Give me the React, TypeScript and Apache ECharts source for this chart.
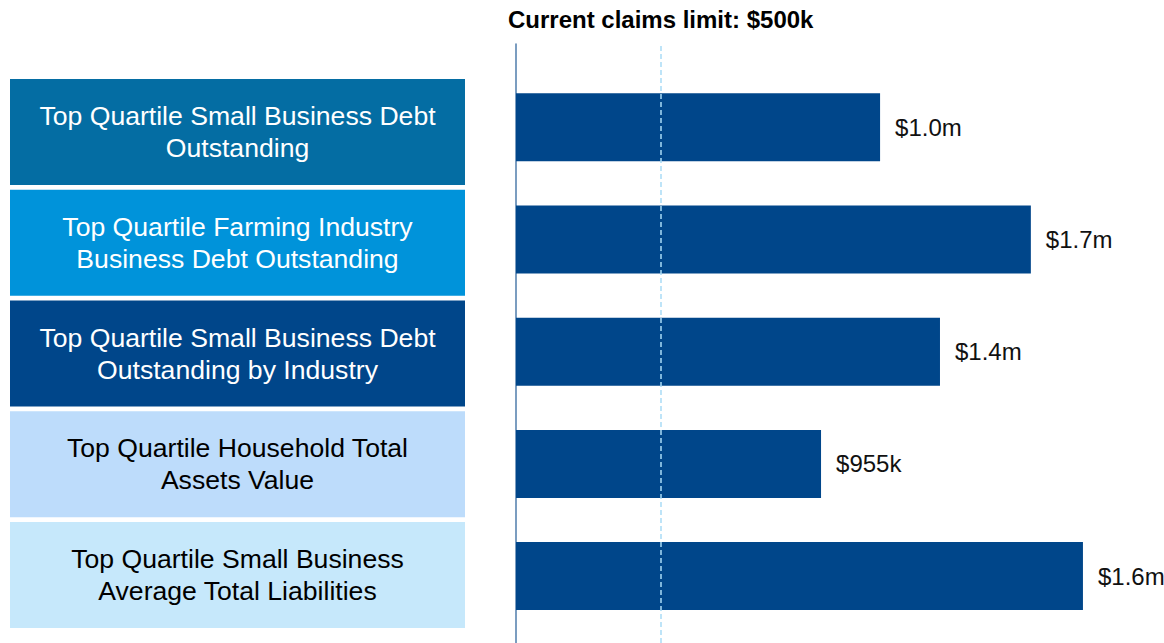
import React, { useEffect, useRef } from 'react';
import * as echarts from 'echarts';

const categories = [
  'Top Quartile Small Business Debt\nOutstanding',
  'Top Quartile Farming Industry\nBusiness Debt Outstanding',
  'Top Quartile Small Business Debt\nOutstanding by Industry',
  'Top Quartile Household Total\nAssets Value',
  'Top Quartile Small Business\nAverage Total Liabilities',
];
// bar lengths in $k, read against the $500k claims-limit line
const barValues = [1258, 1779, 1465, 1054, 1959];
const valueLabels = ['$1.0m', '$1.7m', '$1.4m', '$955k', '$1.6m'];
const boxColors = ['#046da3', '#0093da', '#00468a', '#bddcfb', '#c6e8fb'];
const boxTextColors = ['#ffffff', '#ffffff', '#ffffff', '#000000', '#000000'];
const claimsLimit = 500;
const claimsLabel = 'Current claims limit: $500k';
const xMax = 2200;

const FONT = '"Liberation Sans", Arial, Helvetica, sans-serif';

export default function App() {
  const ref = useRef<HTMLDivElement>(null);

  useEffect(() => {
    if (!ref.current) return;
    const chart = echarts.init(ref.current, null, { renderer: 'svg' });
    const option: any = {
      animation: false,
      backgroundColor: '#ffffff',
      textStyle: { fontFamily: FONT },
      grid: [
        { left: 10, width: 455, top: 76.6, height: 553.8 },
        { left: 516, width: 636.7, top: 71.2, height: 561 },
        { left: 516, width: 636.7, top: 44, height: 599 },
      ],
      xAxis: [
        { gridIndex: 0, type: 'value', min: 0, max: 1, show: false },
        { gridIndex: 1, type: 'value', min: 0, max: xMax, show: false },
        { gridIndex: 2, type: 'value', min: 0, max: xMax, show: false },
      ],
      yAxis: [
        { gridIndex: 0, type: 'category', data: categories, inverse: true, show: false },
        { gridIndex: 1, type: 'category', data: categories, inverse: true, show: false },
        {
          gridIndex: 2,
          type: 'category',
          data: ['axis'],
          offset: 1,
          axisLine: { show: true, lineStyle: { color: '#4f7cab', width: 1.5 } },
          axisTick: { show: false },
          axisLabel: { show: false },
          splitLine: { show: false },
        },
      ],
      series: [
        {
          type: 'bar',
          xAxisIndex: 0,
          yAxisIndex: 0,
          silent: true,
          barWidth: 106,
          data: categories.map((c, i) => ({
            value: 1,
            itemStyle: { color: boxColors[i] },
            label: { color: boxTextColors[i] },
          })),
          label: {
            show: true,
            position: 'inside',
            formatter: '{b}',
            fontSize: 26.6,
            lineHeight: 32,
            fontFamily: FONT,
            align: 'center',
          },
        },
        {
          type: 'bar',
          xAxisIndex: 1,
          yAxisIndex: 1,
          silent: true,
          barWidth: 68,
          itemStyle: { color: '#00468a' },
          data: barValues,
          label: {
            show: true,
            position: 'right',
            distance: 15,
            formatter: (p: any) => valueLabels[p.dataIndex],
            fontSize: 24,
            color: '#111111',
            fontFamily: FONT,
          },
        },
        {
          type: 'scatter',
          xAxisIndex: 2,
          yAxisIndex: 2,
          silent: true,
          symbolSize: 0,
          data: [[0, 0]],
          markLine: {
            silent: true,
            symbol: 'none',
            lineStyle: { type: [5, 3], color: '#a9dcf6', width: 1.5 },
            label: {
              show: true,
              position: 'end',
              distance: 13,
              formatter: claimsLabel,
              fontSize: 24,
              fontWeight: 'bold',
              color: '#000000',
              fontFamily: FONT,
            },
            data: [{ xAxis: claimsLimit }],
          },
        },
      ],
    };
    chart.setOption(option);
    return () => chart.dispose();
  }, []);

  return (
    <div
      ref={ref}
      style={{ position: 'fixed', left: 0, top: 0, width: 1164, height: 643, background: '#fff' }}
    />
  );
}
